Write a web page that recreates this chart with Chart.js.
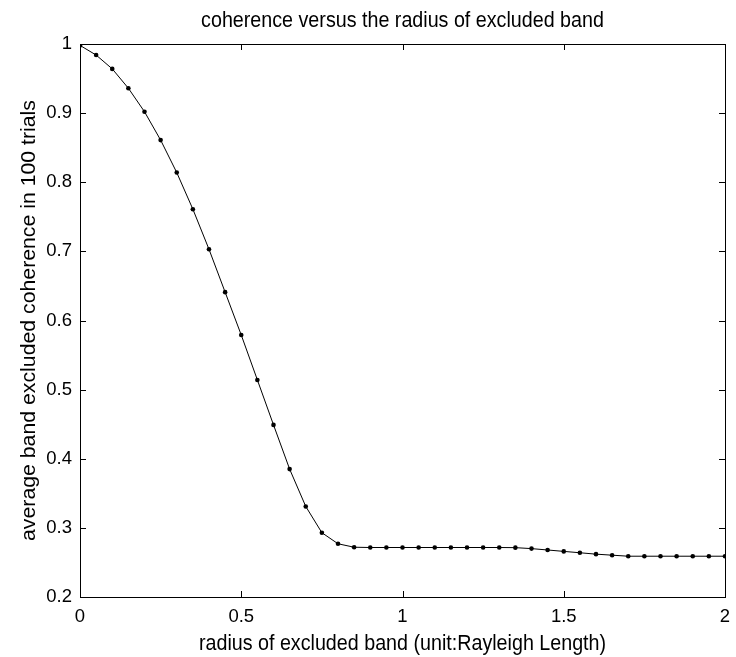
<!DOCTYPE html>
<html>
<head>
<meta charset="utf-8">
<script src="https://cdn.jsdelivr.net/npm/chart.js@4/dist/chart.umd.min.js"></script>
<style>
  html, body { margin: 0; padding: 0; background: #fff; }
  #wrap { width: 736px; height: 657px; }
</style>
</head>
<body>
<div id="wrap"><canvas id="myChart" width="736" height="657"></canvas></div>
<script>
// radius of excluded band, step 0.05
const radius = [
  0, 0.05, 0.1, 0.15, 0.2, 0.25, 0.3, 0.35, 0.4, 0.45,
  0.5, 0.55, 0.6, 0.65, 0.7, 0.75, 0.8, 0.85, 0.9, 0.95,
  1, 1.05, 1.1, 1.15, 1.2, 1.25, 1.3, 1.35, 1.4, 1.45,
  1.5, 1.55, 1.6, 1.65, 1.7, 1.75, 1.8, 1.85, 1.9, 1.95, 2
];
const coherence = [
  0.998, 0.984, 0.964, 0.936, 0.902, 0.861, 0.814, 0.761, 0.703, 0.641,
  0.579, 0.514, 0.449, 0.385, 0.331, 0.293, 0.277, 0.272, 0.2716, 0.2716,
  0.2716, 0.2716, 0.2716, 0.2716, 0.2716, 0.2716, 0.2716, 0.2714, 0.270, 0.268,
  0.266, 0.264, 0.262, 0.2605, 0.259, 0.259, 0.259, 0.259, 0.259, 0.259, 0.259
];
const xTicks = [0, 0.5, 1, 1.5, 2];
const yTicks = [0.2, 0.3, 0.4, 0.5, 0.6, 0.7, 0.8, 0.9, 1];

const titleText = "coherence versus the radius of excluded band";
const xLabel = "radius of excluded band (unit:Rayleigh Length)";
const yLabel = "average band excluded coherence in 100 trials";

const fontFamily = "'Liberation Sans', Arial, Helvetica, sans-serif";
const stretch = 1.08; // the original figure is a bit taller than wide

// MATLAB-like box with inward ticks on all four sides
const boxPlugin = {
  id: 'boxPlugin',
  afterDraw(chart) {
    const ctx = chart.ctx;
    const area = chart.chartArea;
    const xs = chart.scales.x;
    const ys = chart.scales.y;
    const tick = 6;
    ctx.save();
    ctx.strokeStyle = '#000';
    ctx.lineWidth = 1;
    ctx.strokeRect(Math.round(area.left) + 0.5, Math.round(area.top) + 0.5,
      Math.round(area.right - area.left), Math.round(area.bottom - area.top));
    ctx.beginPath();
    xTicks.forEach(v => {
      const px = Math.round(xs.getPixelForValue(v)) + 0.5;
      ctx.moveTo(px, area.bottom); ctx.lineTo(px, area.bottom - tick);
      ctx.moveTo(px, area.top); ctx.lineTo(px, area.top + tick);
    });
    yTicks.forEach(v => {
      const py = Math.round(ys.getPixelForValue(v)) + 0.5;
      ctx.moveTo(area.left, py); ctx.lineTo(area.left + tick, py);
      ctx.moveTo(area.right, py); ctx.lineTo(area.right - tick, py);
    });
    ctx.stroke();
    ctx.restore();

    // title and axis labels
    const cx = (area.left + area.right) / 2;
    const cy = (area.top + area.bottom) / 2;
    ctx.save();
    ctx.fillStyle = '#000';
    ctx.font = '19.7px ' + fontFamily;
    ctx.textAlign = 'center';
    ctx.textBaseline = 'alphabetic';

    ctx.save();
    ctx.translate(cx, 27);
    ctx.scale(1, stretch);
    ctx.fillText(titleText, 0, 0);
    ctx.restore();

    ctx.save();
    ctx.translate(cx, 650);
    ctx.scale(1, stretch);
    ctx.fillText(xLabel, 0, 0);
    ctx.restore();

    ctx.save();
    ctx.translate(35, cy);
    ctx.rotate(-Math.PI / 2);
    ctx.scale(stretch, 1);
    ctx.fillText(yLabel, 0, 0);
    ctx.restore();

    ctx.restore();
  }
};

const data = {
  datasets: [{
    data: radius.map((r, i) => ({ x: r, y: coherence[i] })),
    borderColor: '#000',
    backgroundColor: '#000',
    borderWidth: 1,
    pointRadius: 2.3,
    pointBorderWidth: 0,
    tension: 0
  }]
};

const config = {
  type: 'line',
  data: data,
  options: {
    responsive: false,
    animation: false,
    layout: { padding: { left: 0, top: 44, right: 11, bottom: 0 } },
    plugins: { legend: { display: false }, tooltip: { enabled: false } },
    scales: {
      x: {
        type: 'linear',
        min: 0, max: 2,
        afterBuildTicks: (scale) => { scale.ticks = xTicks.map(v => ({ value: v })); },
        afterFit: (scale) => { scale.height = 60; scale.paddingLeft = 0; scale.paddingRight = 0; },
        grid: { display: false, drawTicks: false },
        border: { display: false },
        ticks: {
          color: '#000', padding: 9, maxRotation: 0,
          font: { size: 18.5, family: fontFamily },
          callback: (v) => String(v)
        }
      },
      y: {
        min: 0.2, max: 1,
        afterBuildTicks: (scale) => { scale.ticks = yTicks.map(v => ({ value: v })); },
        afterFit: (scale) => { scale.width = 80; scale.paddingTop = 0; scale.paddingBottom = 0; },
        grid: { display: false, drawTicks: false },
        border: { display: false },
        ticks: {
          color: '#000', padding: 8,
          font: { size: 18.5, family: fontFamily },
          callback: (v) => String(v)
        }
      }
    }
  },
  plugins: [boxPlugin]
};

const myChart = new Chart(document.getElementById('myChart'), config);
</script>
</body>
</html>
